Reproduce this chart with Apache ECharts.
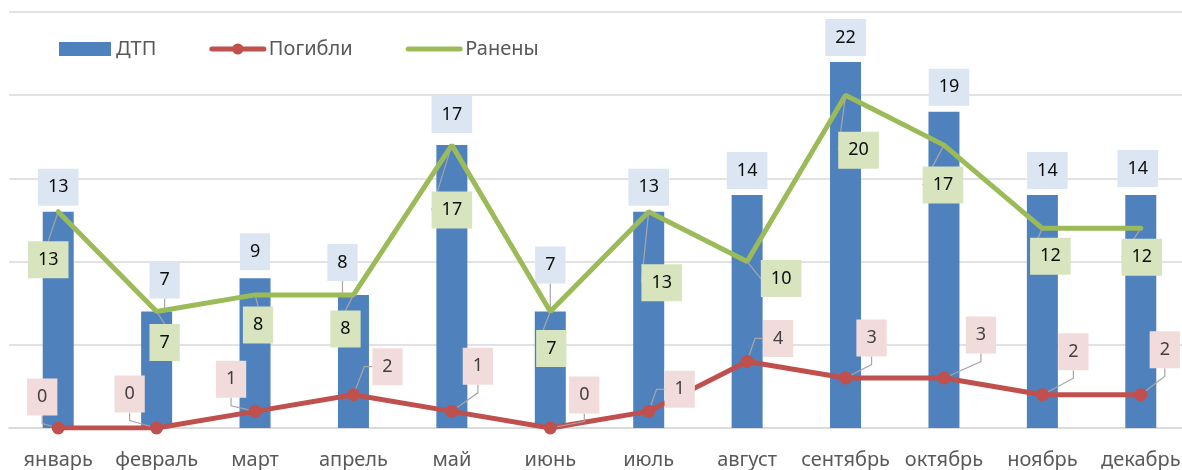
<!DOCTYPE html>
<html>
<head>
<meta charset="utf-8" />
<title>ДТП по месяцам</title>
<script src="https://cdn.jsdelivr.net/npm/echarts@6/dist/echarts.min.js"></script>
<style>
	html, body { margin: 0; padding: 0; background: #fff; }
	#chart { width: 1182px; height: 470px; }
</style>
</head>
<body>
<div id="chart"></div>
<script type="text/javascript">
	// data
	var months = ['январь', 'февраль', 'март', 'апрель', 'май', 'июнь', 'июль', 'август', 'сентябрь', 'октябрь', 'ноябрь', 'декабрь'];
	var dtp = [13, 7, 9, 8, 17, 7, 13, 14, 22, 19, 14, 14];
	var killed = [0, 0, 1, 2, 1, 0, 1, 4, 3, 3, 2, 2];
	var injured = [13, 7, 8, 8, 17, 7, 13, 10, 20, 17, 12, 12];

	// label nudges (px), like the hand-moved labels in the original
	var dtpShift = [[0, 0], [8, -7], [0, -2], [-11, -8], [0, -6], [0, -22], [0, 0], [0, 0], [0, 0], [5, 0], [5, 0], [-3, -2]];
	var injuredShift = [[-10, 48], [8, 31], [3, 30], [-8, 34], [0, 65], [1, 37], [13, 71], [34, 17], [13, 55], [-1, 40], [8, 28], [1, 29]];
	var killedShift = [[-16, -31], [-27, -34], [-24, -32], [34, -28], [26, -45], [34, -33], [31, -22], [31, -23], [26, -40], [37, -43], [31, -43], [24, -45]];

	var font = '"Noto Sans", "Open Sans", sans-serif';

	function shifter(arr) {
		return function(p) {
			var s = arr[p.dataIndex];
			return { dx: s[0], dy: s[1] };
		};
	}

	function boxLabel(bg, color, pos) {
		return {
			show: true,
			position: pos,
			distance: 6,
			fontFamily: font,
			fontSize: 18,
			lineHeight: 19,
			color: color,
			backgroundColor: bg,
			padding: [9, 10]
		};
	}

	var guide = { show: true, smooth: false, length2: 8, lineStyle: { color: '#A6A6A6', width: 1.2 } };

	// bar labels only get a leader line when they were moved far enough
	var dtpData = dtp.map(function(v, i) {
		var s = dtpShift[i];
		return { value: v, labelLine: { show: Math.abs(s[0]) > 5 || Math.abs(s[1]) > 6 } };
	});

	var myChart = echarts.init(document.getElementById('chart'));
	var option = {
		animation: false,
		legend: {
			left: 54,
			top: 34,
			itemWidth: 52,
			itemHeight: 14,
			itemGap: 53,
			textStyle: { fontFamily: font, fontSize: 20, color: '#595959' },
			data: [
				{ name: 'ДТП', icon: 'rect' },
				{ name: 'Погибли', lineStyle: { width: 5, cap: 'round' } },
				{ name: 'Ранены', itemStyle: { opacity: 0 }, lineStyle: { width: 5, cap: 'round' } }
			]
		},
		grid: { left: 9, top: 12, width: 1181, height: 416, outerBoundsMode: 'none' },
		xAxis: {
			type: 'category',
			data: months,
			axisLine: { lineStyle: { color: '#D9D9D9', width: 1.5 } },
			axisTick: { show: false },
			axisLabel: { fontFamily: font, fontSize: 20, color: '#595959', margin: 22, interval: 0 }
		},
		yAxis: {
			type: 'value',
			min: 0,
			max: 25,
			interval: 5,
			axisLabel: { show: false },
			axisLine: { show: false },
			axisTick: { show: false },
			splitLine: { lineStyle: { color: '#D9D9D9', width: 1.5 } }
		},
		series: [
			{
				name: 'ДТП',
				type: 'bar',
				data: dtpData,
				barWidth: 31,
				itemStyle: { color: '#4F81BD' },
				label: boxLabel('#DCE6F2', '#0D0D0D', 'top'),
				labelLayout: shifter(dtpShift),
				labelLine: guide
			},
			{
				name: 'Погибли',
				type: 'line',
				data: killed,
				symbol: 'circle',
				symbolSize: 13,
				itemStyle: { color: '#C0504D' },
				lineStyle: { color: '#C0504D', width: 5, cap: 'round' },
				label: boxLabel('#F2DCDB', '#404040', 'inside'),
				labelLayout: shifter(killedShift),
				labelLine: guide,
				z: 3
			},
			{
				name: 'Ранены',
				type: 'line',
				data: injured,
				symbol: 'circle',
				symbolSize: 0,
				itemStyle: { color: '#9BBB59' },
				lineStyle: { color: '#9BBB59', width: 5, cap: 'round' },
				label: boxLabel('#D7E4BD', '#0D0D0D', 'inside'),
				labelLayout: shifter(injuredShift),
				labelLine: guide,
				z: 3
			}
		]
	};
	myChart.setOption(option);
</script>
</body>
</html>
